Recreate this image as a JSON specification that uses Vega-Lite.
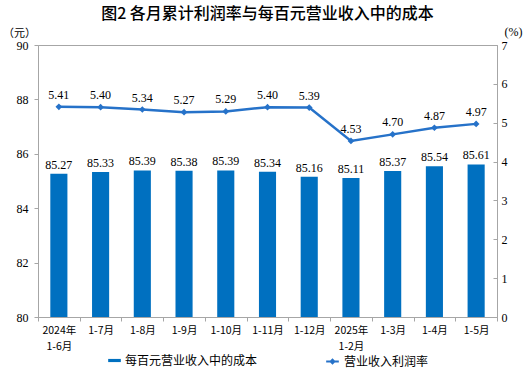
{
  "$schema": "https://vega.github.io/schema/vega-lite/v6.json",
  "width": 459,
  "height": 272,
  "autosize": {"type": "none"},
  "padding": {"left": 38, "top": 45, "right": 31, "bottom": 63},
  "background": "white",
  "title": {
    "text": "图2  各月累计利润率与每百元营业收入中的成本",
    "font": "Noto Sans CJK SC",
    "fontSize": 16,
    "fontWeight": 500,
    "color": "#000000",
    "anchor": "middle",
    "offset": 3
  },
  "config": {
    "view": {"stroke": "#a6a6a6", "strokeWidth": 1},
    "font": "Liberation Serif",
    "axis": {
      "labelFont": "Liberation Serif",
      "labelFontSize": 12,
      "labelColor": "#000000",
      "domainColor": "#a6a6a6",
      "tickColor": "#a6a6a6",
      "grid": false
    }
  },
  "data": {
    "values": [
      {"month": "2024年1-6月", "cost": 85.27, "rate": 5.41},
      {"month": "1-7月", "cost": 85.33, "rate": 5.40},
      {"month": "1-8月", "cost": 85.39, "rate": 5.34},
      {"month": "1-9月", "cost": 85.38, "rate": 5.27},
      {"month": "1-10月", "cost": 85.39, "rate": 5.29},
      {"month": "1-11月", "cost": 85.34, "rate": 5.40},
      {"month": "1-12月", "cost": 85.16, "rate": 5.39},
      {"month": "2025年1-2月", "cost": 85.11, "rate": 4.53},
      {"month": "1-3月", "cost": 85.37, "rate": 4.70},
      {"month": "1-4月", "cost": 85.54, "rate": 4.87},
      {"month": "1-5月", "cost": 85.61, "rate": 4.97}
    ]
  },
  "encoding": {
    "x": {
      "field": "month",
      "type": "nominal",
      "sort": null,
      "scale": {"paddingInner": 0, "paddingOuter": 0},
      "axis": {
        "title": null,
        "labelAngle": 0,
        "tickBand": "extent",
        "tickSize": 4,
        "labelPadding": 4,
        "labelLineHeight": 16,
        "labelFont": "Noto Sans CJK SC",
        "labelFontSize": 10.5,
        "labelExpr": "indexof(datum.label,'年')>0 ? [slice(datum.label,0,5), slice(datum.label,5)] : datum.label"
      }
    }
  },
  "layer": [
    {
      "encoding": {
        "y": {
          "field": "cost",
          "type": "quantitative",
          "scale": {"domain": [80, 90], "zero": false, "nice": false},
          "axis": {
            "title": "（元）",
            "titleAngle": 0,
            "titleX": -19,
            "titleY": -7,
            "titleAlign": "center",
            "titleBaseline": "bottom",
            "titleFont": "Noto Sans CJK SC",
            "titleFontSize": 11,
            "titleFontWeight": "normal",
            "titleColor": "#000000",
            "values": [80, 82, 84, 86, 88, 90],
            "tickSize": 4,
            "labelPadding": 6
          }
        }
      },
      "layer": [
        {
          "mark": {"type": "bar", "width": {"band": 0.41}},
          "encoding": {
            "y2": {"datum": 80},
            "fill": {
              "datum": "每百元营业收入中的成本",
              "scale": {"range": ["#0070c0"]},
              "legend": {
                "title": null,
                "orient": "none",
                "legendX": 70,
                "legendY": 309,
                "symbolType": "M-1,-0.25L1,-0.25L1,0.25L-1,0.25Z",
                "symbolSize": 160,
                "symbolStrokeWidth": 0,
                "labelFont": "Noto Sans CJK SC",
                "labelFontSize": 12,
                "labelColor": "#000000",
                "labelOffset": 4
              }
            }
          }
        },
        {
          "mark": {"type": "text", "dy": -9, "font": "Liberation Serif", "fontSize": 12, "color": "#000000"},
          "encoding": {
            "text": {"field": "cost", "type": "quantitative", "format": ".2f"}
          }
        }
      ]
    },
    {
      "encoding": {
        "y": {
          "field": "rate",
          "type": "quantitative",
          "scale": {"domain": [0, 7], "nice": false},
          "axis": {
            "orient": "right",
            "title": "(%)",
            "titleAngle": 0,
            "titleX": 16,
            "titleY": -7,
            "titleAlign": "center",
            "titleBaseline": "bottom",
            "titleFont": "Liberation Serif",
            "titleFontSize": 12,
            "titleFontWeight": "normal",
            "titleColor": "#000000",
            "values": [0, 1, 2, 3, 4, 5, 6, 7],
            "tickSize": -4,
            "labelPadding": 8
          }
        }
      },
      "layer": [
        {
          "mark": {"type": "line", "strokeWidth": 2.5, "color": "#2672c9"},
          "encoding": {
            "stroke": {
              "datum": "营业收入利润率",
              "scale": {"range": ["#2672c9"]},
              "legend": {
                "title": null,
                "orient": "none",
                "legendX": 287,
                "legendY": 309,
                "symbolType": "M-1,0L1,0M0,-0.3L0.3,0L0,0.3L-0.3,0Z",
                "symbolSize": 160,
                "symbolStrokeWidth": 2,
                "symbolFillColor": "#2672c9",
                "labelFont": "Noto Sans CJK SC",
                "labelFontSize": 12,
                "labelColor": "#000000",
                "labelOffset": 4
              }
            }
          }
        },
        {
          "mark": {"type": "point", "shape": "diamond", "filled": true, "size": 45, "color": "#2672c9", "opacity": 1}
        },
        {
          "mark": {"type": "text", "dy": -12, "font": "Liberation Serif", "fontSize": 12, "color": "#000000"},
          "encoding": {
            "text": {"field": "rate", "type": "quantitative", "format": ".2f"}
          }
        }
      ]
    }
  ],
  "resolve": {"scale": {"y": "independent", "fill": "independent", "stroke": "independent"}}
}
